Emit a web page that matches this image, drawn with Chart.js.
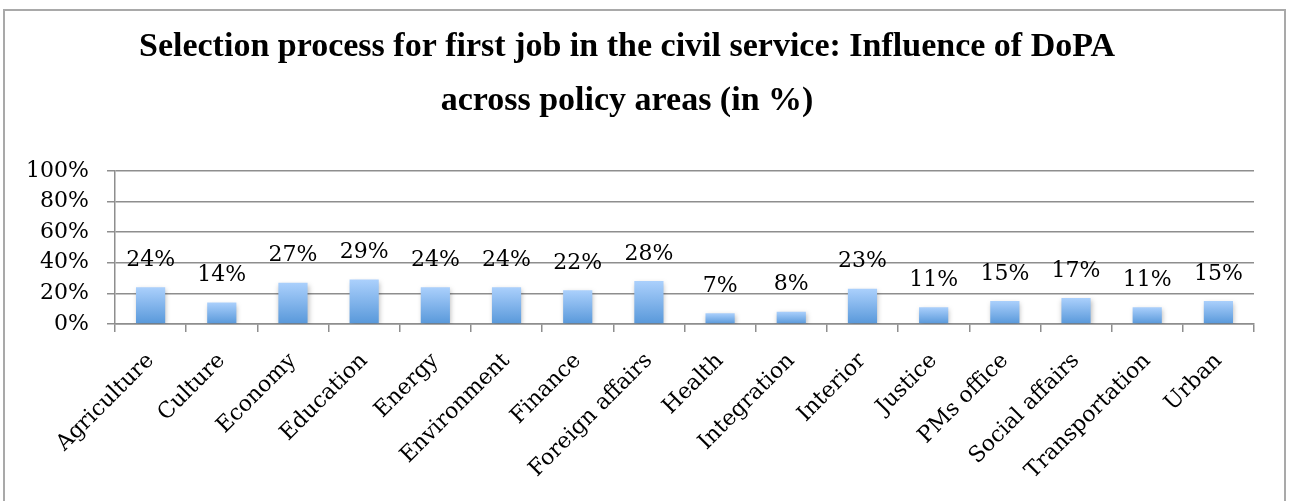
<!DOCTYPE html>
<html>
<head>
<meta charset="utf-8">
<script src="https://cdn.jsdelivr.net/npm/chart.js@4"></script>
<style>
html,body{margin:0;padding:0;background:#fff;overflow:hidden;}
#wrap{position:relative;width:1289px;height:501px;}
#frame{position:absolute;left:3px;top:9px;width:1283px;height:520px;border:2px solid #a9a9a9;box-sizing:border-box;}
canvas{position:absolute;left:0;top:0;}
</style>
</head>
<body>
<div id="wrap"><div id="frame"></div><canvas id="c" width="1289" height="501"></canvas></div>
<script>
const categories = ["Agriculture","Culture","Economy","Education","Energy","Environment","Finance","Foreign affairs","Health","Integration","Interior","Justice","PMs office","Social affairs","Transportation","Urban"];
const values = [24,14,27,29,24,24,22,28,7,8,23,11,15,17,11,15];
const yTicks = [0,20,40,60,80,100];
const titleLines = ["Selection process for first job in the civil service: Influence of DoPA","across policy areas (in %)"];

const SERIF = "'DejaVu Serif', serif";

const barGradient = (ctx) => {
  const chart = ctx.chart;
  const y = chart.scales.y;
  if (!y || !ctx.parsed) return '#79afea';
  const top = y.getPixelForValue(ctx.parsed.y);
  const bottom = y.getPixelForValue(0);
  if (!isFinite(top) || !isFinite(bottom) || top === bottom) return '#79afea';
  const g = chart.ctx.createLinearGradient(0, top, 0, bottom);
  g.addColorStop(0, '#abd0fc');
  g.addColorStop(1, '#5898da');
  return g;
};

const shadowPlugin = {
  id: 'shadow',
  beforeDatasetsDraw(chart) {
    const c = chart.ctx; c.save();
    c.shadowColor = 'rgba(0,0,0,0.28)'; c.shadowBlur = 5; c.shadowOffsetX = 1; c.shadowOffsetY = 2;
  },
  afterDatasetsDraw(chart) { chart.ctx.restore(); }
};

const labelPlugin = {
  id: 'valueLabels',
  afterDatasetsDraw(chart) {
    const c = chart.ctx;
    const meta = chart.getDatasetMeta(0);
    c.save();
    c.shadowColor = 'transparent';
    c.font = "22px " + SERIF;
    c.fillStyle = '#000';
    c.textAlign = 'center';
    c.textBaseline = 'middle';
    meta.data.forEach((bar, i) => {
      c.fillText(values[i] + '%', bar.x, bar.y - 27);
    });
    c.restore();
  }
};

new Chart(document.getElementById('c'), {
  type: 'bar',
  data: {
    labels: categories,
    datasets: [{
      data: values,
      backgroundColor: barGradient,
      borderWidth: 0,
      barPercentage: 0.41,
      categoryPercentage: 1
    }]
  },
  options: {
    responsive: false,
    animation: false,
    devicePixelRatio: 1,
    layout: { padding: { left: 0, right: 35, top: 8, bottom: 0 } },
    plugins: {
      legend: { display: false },
      tooltip: { enabled: false },
      title: {
        display: true,
        text: titleLines,
        color: '#000',
        font: { family: "'Liberation Serif', serif", size: 34, weight: 'bold', lineHeight: 1.6 },
        padding: { top: 12, bottom: 42 }
      }
    },
    scales: {
      y: {
        min: 0, max: 100,
        afterFit(scale) { scale.width = 115; },
        afterBuildTicks(scale) { scale.ticks = yTicks.map(v => ({ value: v })); },
        ticks: {
          color: '#000',
          padding: 18,
          font: { family: SERIF, size: 22 },
          callback: (v) => v + '%'
        },
        grid: { color: '#8e8e8e', lineWidth: 1.5, tickLength: 8 },
        border: { color: '#8e8e8e', width: 1.5 }
      },
      x: {
        afterFit(scale) { scale.height = 177; },
        ticks: {
          color: '#000',
          padding: 16,
          minRotation: 45, maxRotation: 45,
          autoSkip: false,
          font: { family: SERIF, size: 22 }
        },
        grid: { offset: true, drawOnChartArea: false, color: '#8e8e8e', lineWidth: 1.5, tickLength: 8 },
        border: { color: '#8e8e8e', width: 1.5 }
      }
    }
  },
  plugins: [shadowPlugin, labelPlugin]
});
</script>
</body>
</html>
